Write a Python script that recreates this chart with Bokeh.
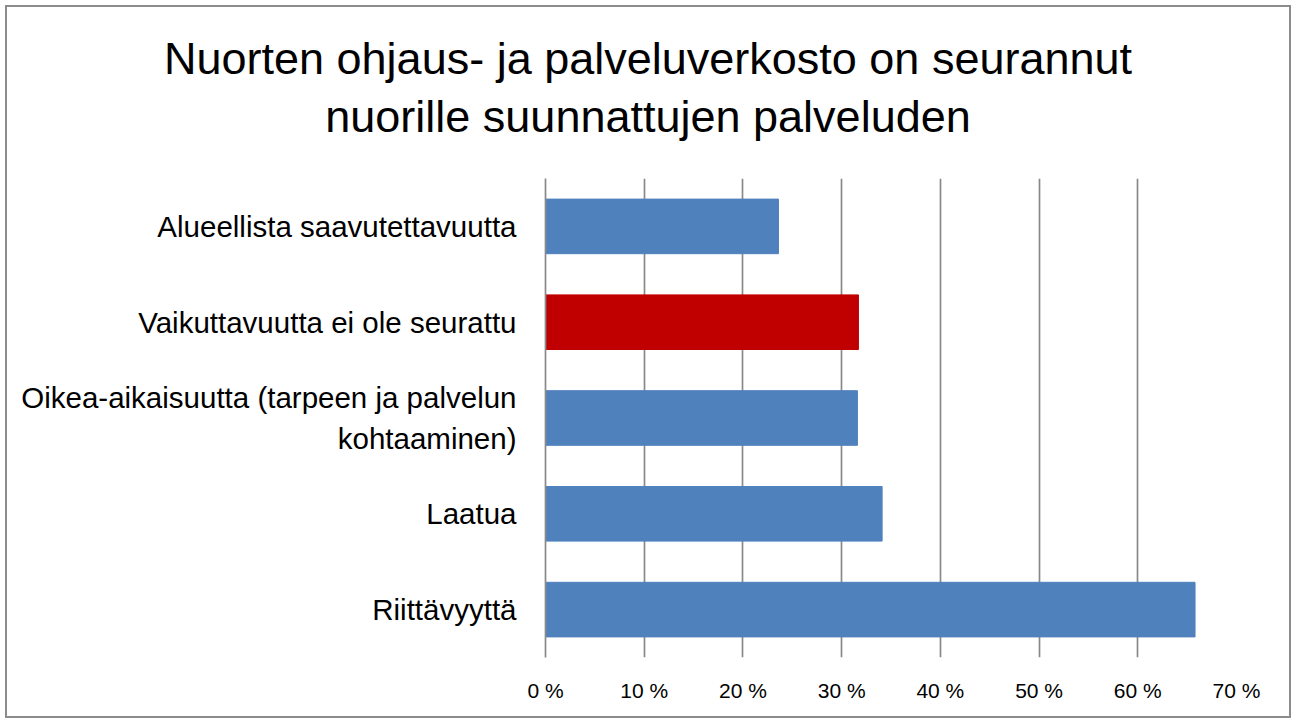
from bokeh.plotting import figure
from bokeh.models import FixedTicker, PrintfTickFormatter, Range1d, FactorRange, Div
from bokeh.layouts import column
from bokeh.embed import file_html
from bokeh.resources import INLINE

categories = ["Riittävyyttä", "Laatua",
              "Oikea-aikaisuutta (tarpeen ja palvelun\nkohtaaminen)",
              "Vaikuttavuutta ei ole seurattu", "Alueellista saavutettavuutta"]
values = [65.8, 34.1, 31.6, 31.7, 23.6]
colors = ["#4F81BD", "#4F81BD", "#4F81BD", "#C00000", "#4F81BD"]
x_ticks = [0, 10, 20, 30, 40, 50, 60, 70]
title_lines = ["Nuorten ohjaus- ja palveluverkosto on seurannut",
               "nuorille suunnattujen palveluden"]

FONT = "Liberation Sans"
GRID = "#898989"

title_div = Div(
    text=('<div style="font-family:\'Liberation Sans\';font-size:45px;'
          'line-height:58px;text-align:center;color:#000;width:1282px;'
          'padding-top:23px;">' + "<br>".join(title_lines) + '</div>'),
    width=1282, height=171, margin=0)

p = figure(width=1282, height=538, y_range=FactorRange(*categories),
           x_range=Range1d(0, 70), output_backend="svg", toolbar_location=None,
           min_border_left=538, min_border_right=53, min_border_top=0,
           min_border_bottom=59, margin=0)
p.hbar(y=categories, right=values, height=0.57, color=colors)

p.outline_line_color = None
p.ygrid.grid_line_color = None
p.xgrid.grid_line_color = GRID
p.xgrid.grid_line_width = 1.7
p.xaxis.ticker = FixedTicker(ticks=x_ticks)
p.xaxis.formatter = PrintfTickFormatter(format="%d %%")
p.xaxis.axis_line_color = None
p.xaxis.major_tick_line_color = None
p.xaxis.minor_tick_line_color = None
p.xaxis.major_label_standoff = 15
p.xaxis.major_label_text_font = FONT
p.xaxis.major_label_text_font_size = "21px"
p.xaxis.major_label_text_color = "#000000"

p.yaxis.axis_line_color = GRID
p.yaxis.axis_line_width = 1.7
p.yaxis.major_tick_line_color = None
p.yaxis.major_label_standoff = 23
p.yaxis.major_label_text_font = FONT
p.yaxis.major_label_text_font_size = "29.5px"
p.yaxis.major_label_text_line_height = 1.25
p.yaxis.major_label_text_color = "#000000"

layout = column(title_div, p, spacing=0)
layout.margin = (5, 0, 0, 5)
layout.styles = {"border": "2px solid #8c8c8c", "background-color": "#ffffff"}

open("out.html", "w").write(file_html(layout, INLINE))
